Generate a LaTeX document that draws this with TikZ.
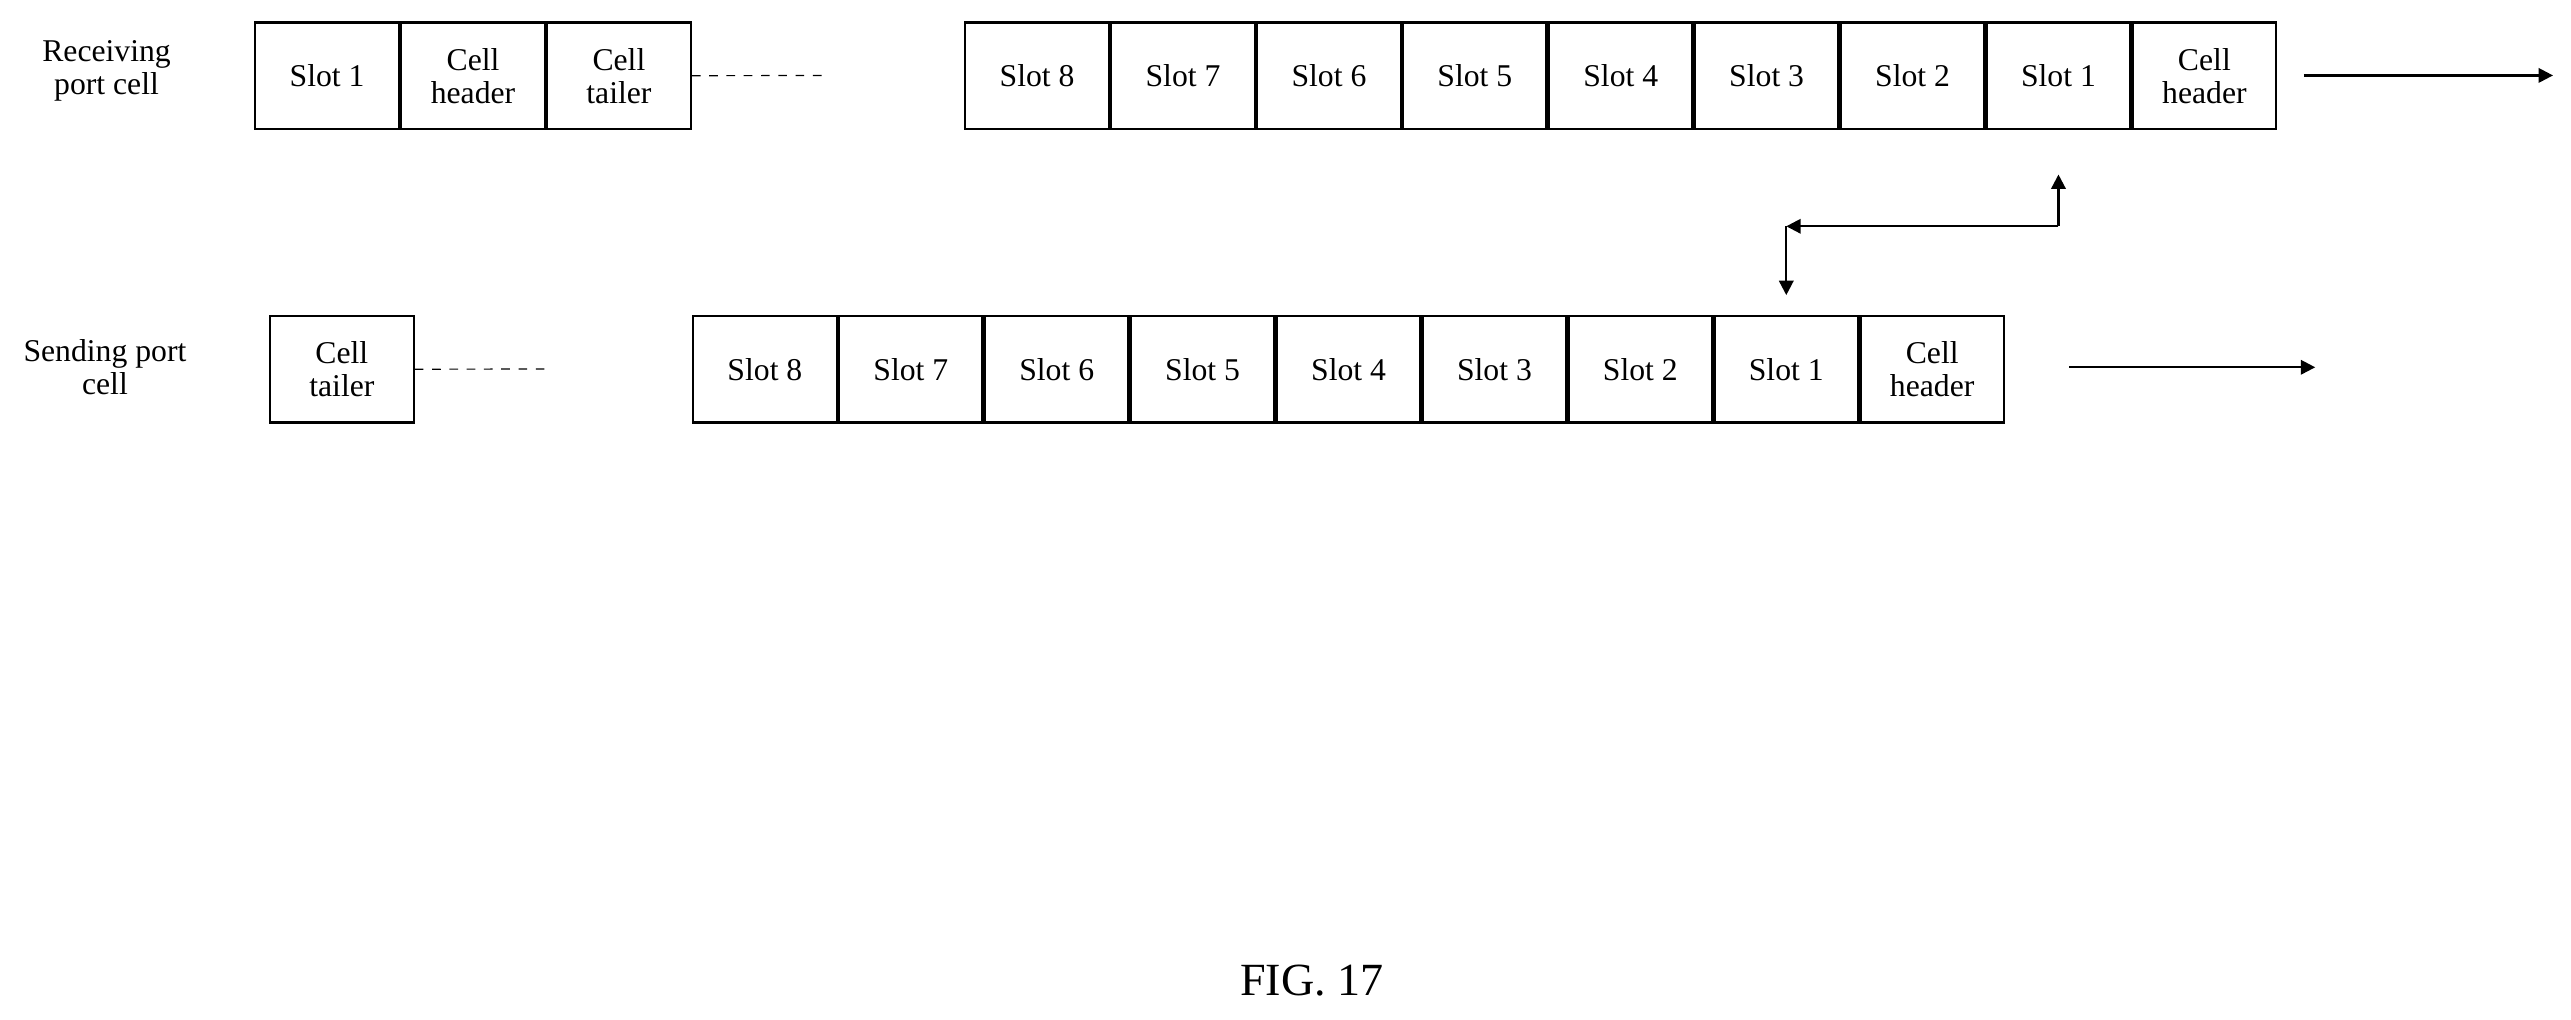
\documentclass[tikz,border=0pt]{standalone}
\usepackage{fontspec}
\setmainfont{Liberation Serif}
\usetikzlibrary{positioning,arrows.meta}
\tikzset{
  cell/.style={draw, thick, minimum width=1.752cm, minimum height=1.3cm, inner sep=0pt, align=center, font=\fontsize{11}{11.5}\selectfont},
  lbl/.style={align=center, font=\fontsize{11}{11.5}\selectfont},
  flow/.style={thick, -{Triangle[length=5pt,width=5pt]}},
}
\begin{document}
\begin{tikzpicture}[x=0.02cm,y=0.02cm]
\useasboundingbox (0,0) rectangle (1568,-622);

% receiving side
\node [lbl] (rlbl) at (65,-43) {Receiving\\port cell};
\node [cell, anchor=north west] (ra) at (155,-13) {Slot 1};
\node [cell, right=0pt of ra] (rb) {Cell\\header};
\node [cell, right=0pt of rb] (rc) {Cell\\tailer};
\coordinate (rd) at (502,-46);
\draw [dashed] (rc.east) -- (rd);

\node [cell, anchor=north west] (r8) at (588,-13) {Slot 8};
\foreach \i [evaluate=\i as \j using int(\i+1)] in {7,...,1}
  \node [cell, right=0pt of r\j] (r\i) {Slot \i};
\node [cell, right=0pt of r1] (rh) {Cell\\header};
\coordinate (rs) at (1405,-46);
\coordinate (re) at (1557,-46);
\draw [flow] (rs) -- (re);

% sending side
\node [lbl] (slbl) at (64,-224) {Sending port\\cell};
\node [cell, anchor=north west] (sc) at (164,-192) {Cell\\tailer};
\coordinate (sd) at (337,-225);
\draw [dashed] (sc.east) -- (sd);

\node [cell, anchor=north west] (s8) at (422,-192) {Slot 8};
\foreach \i [evaluate=\i as \j using int(\i+1)] in {7,...,1}
  \node [cell, right=0pt of s\j] (s\i) {Slot \i};
\node [cell, right=0pt of s1] (sh) {Cell\\header};
\coordinate (ss) at (1262,-224);
\coordinate (se) at (1412,-224);
\draw [flow] (ss) -- (se);

% slot exchange
\coordinate (k1) at ([yshift=-27pt*0.57]r1.south);
\coordinate (k0) at (k1 |- 0,-138);
\coordinate (k2) at (s1.north |- k0);
\coordinate (k3) at ([yshift=12pt*0.57]s1.north);
\draw [flow] (k0) -- (k1);
\draw [flow] (k0) -- (k2);
\draw [flow] (k2) -- (k3);

\node [font=\fontsize{16}{18}\selectfont] (fig) at (800,-598) {FIG. 17};
\end{tikzpicture}
\end{document}
